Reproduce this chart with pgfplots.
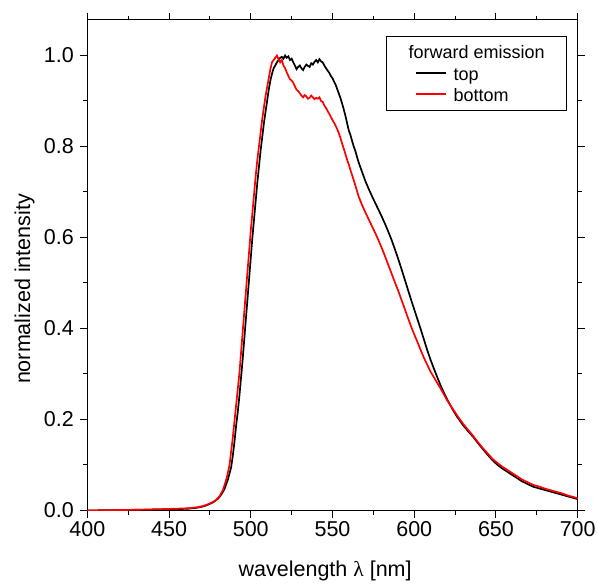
\documentclass[border=0pt]{standalone}
\usepackage{fontspec}
\setmainfont{Liberation Sans}
\newfontfamily\grk{Liberation Serif}
\usepackage{pgfplots}
\pgfplotsset{compat=1.18}
\begin{document}
\begin{tikzpicture}[x=1bp,y=1bp]
\begin{axis}[
 scale only axis, width=490.4bp, height=490.5bp,
 at={(0,0)}, anchor=south west,
 xmin=400, xmax=700, ymin=0, ymax=1.078,
 xtick={400,450,...,700}, minor x tick num=1,
 ytick={0,0.2,0.4,0.6,0.8,1.0}, minor y tick num=1,
 tick align=outside, major tick length=7bp, minor tick length=4bp,
 tick pos=both, xticklabel pos=lower, yticklabel pos=left,
 font=\fontsize{21.5bp}{25bp}\selectfont,
 tick label style={font=\fontsize{21.5bp}{25bp}\selectfont},
 /pgf/number format/assume math mode=true,
 yticklabel style={xshift=-3bp,/pgf/number format/fixed,/pgf/number format/fixed zerofill,/pgf/number format/precision=1},
 xticklabel style={/pgf/number format/1000 sep={}},
 xlabel={wavelength {\grk λ} [nm]},
 ylabel={normalized intensity},
 xlabel style={at={(axis description cs:0.485,-0.1346)}, anchor=base},
 ylabel style={at={(axis description cs:-0.128,0.4516)}, anchor=center, rotate=0},
 axis line style={line width=1bp},
 tick style={line width=1bp, black},
 every axis plot/.append style={line width=1.7bp},
 legend cell align=left,
 legend style={at={(axis description cs:0.976,0.968)}, anchor=north east,
   draw=black, inner xsep=19bp, inner ysep=5.5bp,
   cells={inner sep=0pt}, /tikz/column sep=5bp, /tikz/row sep=0pt,
   font=\fontsize{18bp}{22.3bp}\selectfont},
]
\addlegendimage{empty legend}
\addlegendentry{\strut\hspace{-45bp}forward emission}
\addlegendimage{legend image code/.code={\path (-10bp,0bp); \draw[black,line width=1.7bp] (0bp,0bp) -- (30bp,0bp);}}
\addlegendentry{\strut top}
\addlegendimage{legend image code/.code={\path (-10bp,0bp); \draw[red,line width=1.7bp] (0bp,0bp) -- (30bp,0bp);}}
\addlegendentry{\strut bottom}
\addplot[black, forget plot] coordinates {
(400,0.000)(420,0.001)(440,0.002)(455,0.003)(462,0.004)(467,0.006)(471,0.009)(474,0.013)(477,0.018)(480,0.026)(482,0.035)(484,0.048)(486,0.068)(488,0.095)(489,0.12)(490,0.15)(491,0.185)(492,0.215)(493,0.25)(494,0.29)(495,0.33)(496,0.375)(497,0.42)(498,0.465)(499,0.51)(500,0.555)(501,0.60)(502,0.64)(503,0.68)(504,0.72)(505,0.755)(506,0.79)(507,0.82)(508,0.85)(509,0.875)(510,0.90)(511,0.925)(512,0.945)(513,0.96)(514,0.972)(515,0.978)(516,0.985)(517,0.99)(518,0.995)(519,0.997)(520,0.993)(521,1.0)(522,0.995)(523,0.998)(524,0.99)(525,0.993)(526,0.985)(527,0.978)(528,0.97)(529,0.975)(530,0.978)(531,0.972)(532,0.968)(533,0.975)(534,0.98)(535,0.977)(536,0.975)(537,0.983)(538,0.98)(539,0.986)(540,0.99)(541,0.985)(542,0.992)(543,0.987)(544,0.985)(545,0.978)(546,0.972)(547,0.967)(548,0.962)(549,0.955)(550,0.95)(551,0.942)(552,0.935)(553,0.925)(554,0.915)(555,0.905)(556,0.893)(557,0.88)(558,0.866)(559,0.85)(560,0.835)(561,0.825)(562,0.812)(563,0.8)(564,0.79)(565,0.777)(566,0.765)(567,0.755)(568,0.745)(569,0.735)(570,0.725)(572,0.708)(574,0.692)(576,0.677)(578,0.662)(580,0.647)(582,0.631)(584,0.614)(586,0.596)(588,0.576)(590,0.555)(592,0.533)(594,0.51)(596,0.487)(598,0.464)(600,0.442)(602,0.42)(604,0.398)(606,0.375)(608,0.352)(610,0.331)(612,0.312)(614,0.294)(616,0.276)(618,0.26)(620,0.245)(622,0.232)(624,0.219)(626,0.207)(628,0.197)(630,0.187)(633,0.174)(636,0.162)(639,0.148)(642,0.135)(645,0.122)(648,0.11)(651,0.1)(654,0.092)(657,0.085)(660,0.078)(663,0.071)(666,0.064)(670,0.057)(673,0.052)(677,0.048)(680,0.045)(684,0.041)(687,0.038)(690,0.035)(694,0.031)(697,0.028)(700,0.025)
};
\addplot[red, forget plot] coordinates {
(400,0.000)(420,0.001)(435,0.002)(445,0.003)(455,0.004)(462,0.005)(467,0.007)(471,0.010)(474,0.014)(477,0.019)(479,0.024)(481,0.032)(483,0.045)(485,0.068)(486,0.083)(487,0.10)(488,0.13)(489,0.16)(490,0.195)(491,0.23)(492,0.265)(493,0.30)(494,0.345)(495,0.39)(496,0.435)(497,0.48)(498,0.525)(499,0.57)(500,0.615)(501,0.655)(502,0.695)(503,0.735)(504,0.77)(505,0.80)(506,0.83)(507,0.86)(508,0.885)(509,0.91)(510,0.93)(511,0.95)(512,0.97)(513,0.985)(514,0.99)(515,0.995)(516,1.0)(517,0.992)(518,0.985)(519,0.99)(520,0.978)(521,0.972)(522,0.963)(523,0.955)(524,0.948)(525,0.945)(526,0.94)(527,0.932)(528,0.925)(529,0.922)(530,0.917)(531,0.912)(532,0.908)(533,0.913)(534,0.91)(535,0.905)(536,0.907)(537,0.912)(538,0.908)(539,0.904)(540,0.907)(541,0.905)(542,0.908)(543,0.9)(544,0.898)(545,0.89)(546,0.885)(547,0.878)(548,0.872)(549,0.865)(550,0.858)(551,0.852)(552,0.845)(553,0.837)(554,0.828)(555,0.817)(556,0.805)(557,0.794)(558,0.782)(559,0.77)(560,0.76)(561,0.748)(562,0.737)(563,0.726)(564,0.714)(565,0.702)(566,0.69)(568,0.672)(570,0.656)(572,0.641)(574,0.626)(576,0.611)(578,0.595)(580,0.578)(582,0.56)(584,0.541)(586,0.522)(588,0.503)(590,0.485)(592,0.465)(594,0.445)(596,0.425)(598,0.405)(600,0.387)(602,0.37)(604,0.352)(606,0.335)(608,0.32)(610,0.305)(612,0.293)(614,0.281)(616,0.269)(618,0.256)(620,0.243)(622,0.232)(624,0.221)(626,0.21)(628,0.2)(630,0.19)(633,0.177)(636,0.164)(639,0.15)(642,0.137)(645,0.125)(648,0.113)(651,0.104)(654,0.096)(657,0.089)(660,0.082)(663,0.075)(666,0.068)(670,0.061)(673,0.056)(677,0.052)(680,0.048)(684,0.044)(687,0.041)(690,0.038)(694,0.033)(697,0.030)(700,0.027)
};
\end{axis}
\pgfresetboundingbox
\path[use as bounding box] (-87.3bp,-73.5bp) rectangle (509.7bp,510.5bp);
\end{tikzpicture}
\end{document}
